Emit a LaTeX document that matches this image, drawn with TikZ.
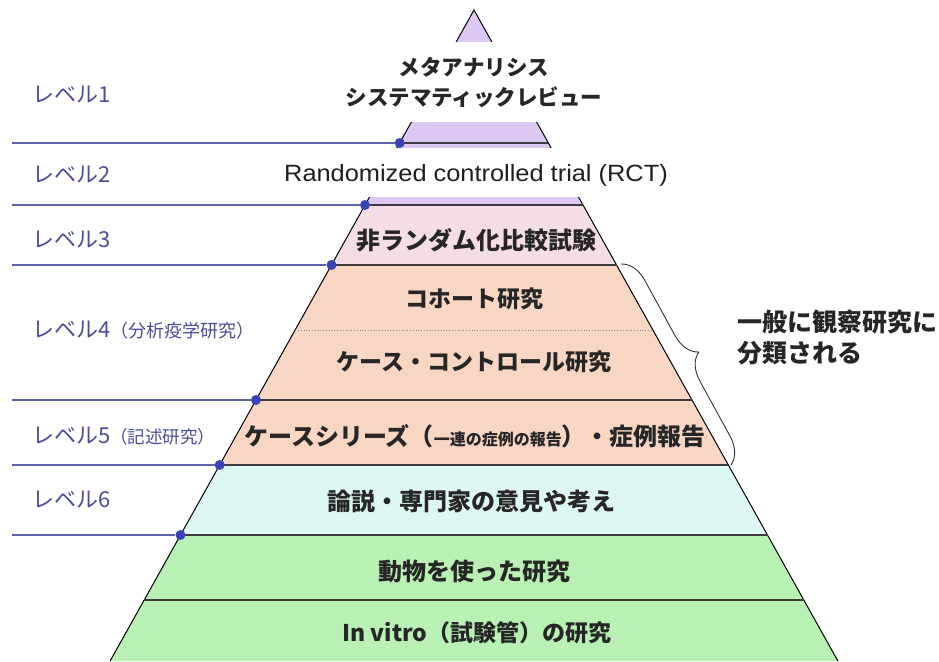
\documentclass[tikz,border=0pt]{standalone}
\usepackage{fontspec}
\usetikzlibrary{decorations.pathreplacing}
\newfontfamily\jpfont{Noto Sans CJK JP}
\newfontfamily\latinfont[FakeStretch=1.08]{Liberation Sans}
\definecolor{lvlblue}{HTML}{4A4D96}
\definecolor{linec}{HTML}{5E62A8}
\definecolor{dotc}{HTML}{3A44B8}
\definecolor{purp}{HTML}{DCC8F2}
\definecolor{pinkc}{HTML}{F4DDE7}
\definecolor{peach}{HTML}{F8D6C4}
\definecolor{cyanc}{HTML}{DDF7F4}
\definecolor{greenc}{HTML}{B9F0B3}
\definecolor{sepc}{HTML}{3C3C3C}
\tikzset{
  lvl/.style={text=lvlblue, font=\jpfont\fontsize{22}{22}\selectfont, anchor=west, inner sep=0pt},
  ptxt/.style={font=\jpfont\bfseries\fontsize{24}{24}\selectfont, text=black!85, inner sep=0pt},
  sepline/.style={draw=sepc, line width=1.6pt},
  edgeline/.style={draw=black, line width=1pt},
  lline/.style={draw=linec, line width=1.1pt},
  ldot/.style={circle, fill=dotc, inner sep=0pt, minimum size=10pt},
  bracec/.style={draw=black!80, line width=0.9pt, decorate, decoration={brace, amplitude=26pt}},
}
\begin{document}
\begin{tikzpicture}[x=1pt, y=-1pt]
\useasboundingbox (0,0) rectangle (939,661);
% bands
\fill[purp] (474,10) -- (548.3,143) -- (399.7,143) -- cycle;
\fill[purp] (399.7,143) -- (548.3,143) -- (583.0,205) -- (365.0,205) -- cycle;
\fill[pinkc] (365.0,205) -- (583.0,205) -- (616.5,265) -- (331.5,265) -- cycle;
\fill[peach] (331.5,265) -- (616.5,265) -- (728.3,465) -- (219.7,465) -- cycle;
\fill[cyanc] (219.7,465) -- (728.3,465) -- (767.5,535) -- (180.5,535) -- cycle;
\fill[greenc] (180.5,535) -- (767.5,535) -- (837.9,661) -- (110.1,661) -- cycle;
% pyramid edges
\draw[edgeline] (110.1,661) -- (474,10) -- (837.9,661);
% white text backgrounds
\fill[white] (338,42) rectangle (608,122);
\fill[white] (278,148) rectangle (674,197);
% separators
\draw[sepline] (399.7,143) -- (548.3,143);
\draw[sepline] (365.0,205) -- (583.0,205);
\draw[sepline] (331.5,265) -- (616.5,265);
\draw[sepline] (256.0,400) -- (692.0,400);
\draw[sepline] (219.7,465) -- (728.3,465);
\draw[sepline] (180.5,535) -- (767.5,535);
\draw[sepline] (144.2,600) -- (803.8,600);
\draw[black!45, line width=0.8pt, dotted] (295.1,330) -- (652.9,330);
% left level lines and dots
\foreach \n/\xx/\yy in {a/399.7/143, b/365.0/205, c/331.5/265, d/256.0/400, e/219.7/465, f/180.5/535}{
  \coordinate (s\n) at (12,\yy);
  \node[ldot] (d\n) at (\xx,\yy) {};
  \draw[lline] (s\n) -- (d\n);
}
% level labels
\node[lvl] (l1) at (32,95) {レベル1};
\node[lvl] (l2) at (32,175) {レベル2};
\node[lvl] (l3) at (32,240) {レベル3};
\node[lvl] (l4) at (32,330) {レベル4{\fontsize{18}{18}\selectfont （分析疫学研究）}};
\node[lvl] (l5) at (32,436) {レベル5{\fontsize{17.5}{17.5}\selectfont （記述研究）}};
\node[lvl] (l6) at (32,500) {レベル6};
% pyramid texts
\node[ptxt, font=\jpfont\bfseries\fontsize{21.5}{21.5}\selectfont] (t1a) at (474,67) {メタアナリシス};
\node[ptxt, font=\jpfont\bfseries\fontsize{21.5}{21.5}\selectfont] (t1b) at (474,97) {システマティックレビュー};
\node[inner sep=0pt, font=\latinfont\fontsize{23.5}{23.5}\selectfont, text=black!88] (t2) at (476,175) {Randomized controlled trial (RCT)};
\node[ptxt] (t3) at (476,240) {非ランダム化比較試験};
\node[ptxt, font=\jpfont\bfseries\fontsize{23}{23}\selectfont] (t4a) at (474,299) {コホート研究};
\node[ptxt, font=\jpfont\bfseries\fontsize{23}{23}\selectfont] (t4b) at (474,362) {ケース・コントロール研究};
\node[ptxt] (t5) at (475,436) {ケースシリーズ（{\fontsize{16}{16}\selectfont 一連の症例の報告}）・症例報告};
\node[ptxt] (t6) at (471,501) {論説・専門家の意見や考え};
\node[ptxt] (t7) at (474,571) {動物を使った研究};
\node[ptxt, font=\jpfont\bfseries\fontsize{23}{23}\selectfont] (t8) at (477,633) {In vitro（試験管）の研究};
% brace and note
\coordinate (bt) at (621,264);
\coordinate (bb) at (731,465);
\draw[bracec] (bt) -- (bb);
\node[ptxt, anchor=west, font=\jpfont\bfseries\fontsize{25}{25}\selectfont] (n1) at (737,322) {一般に観察研究に};
\node[ptxt, anchor=west, font=\jpfont\bfseries\fontsize{25}{25}\selectfont] (n2) at (737,353) {分類される};
\end{tikzpicture}
\end{document}
